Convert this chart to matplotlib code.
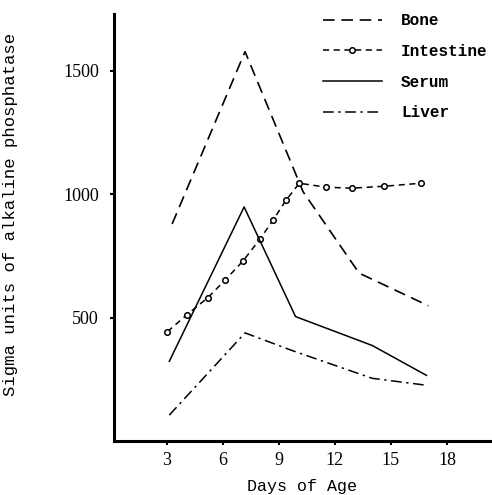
import matplotlib
matplotlib.use("Agg")
import matplotlib.pyplot as plt

# values
bone_days = [3.3, 7.2, 10.3, 13.3, 17.0]
bone_vals = [879, 1577, 1010, 680, 548]

intestine_days = [3.05, 4.1, 5.2, 6.15, 7.1, 8.0, 8.7, 9.4, 10.1, 11.55, 12.9, 14.65, 16.6]
intestine_vals = [443, 512, 580, 653, 730, 818, 895, 976, 1044, 1028, 1024, 1032, 1044]

serum_days = [3.15, 7.15, 9.9, 14.0, 16.9]
serum_vals = [323, 948, 504, 387, 266]

liver_days = [3.15, 7.2, 9.7, 14.0, 16.9]
liver_vals = [105, 438, 367, 254, 226]

x_ticks = [3, 6, 9, 12, 15, 18]
y_ticks = [500, 1000, 1500]

mono = "Liberation Mono"

fig = plt.figure(figsize=(4.92, 4.95), dpi=100)
ax = fig.add_axes([0.232, 0.109, 0.764, 0.863])

ax.plot(bone_days, bone_vals, color="black", lw=1.2, dashes=(7, 4), label="Bone")
ax.plot(intestine_days, intestine_vals, color="black", lw=1.1, dashes=(4, 3),
        marker="o", markersize=4, markerfacecolor="white", markeredgewidth=1.1,
        label="Intestine")
ax.plot(serum_days, serum_vals, color="black", lw=1.1, label="Serum")
ax.plot(liver_days, liver_vals, color="black", lw=1.1, dashes=(7, 3, 1.5, 3),
        label="Liver")

ax.set_xlim(0.2, 20.3)
ax.set_ylim(0, 1730)
ax.set_xticks(x_ticks)
ax.set_yticks(y_ticks)
ax.tick_params(direction="out", length=3, width=1.5, labelsize=13)
ax.tick_params(axis="y", pad=8)
ax.tick_params(axis="x", pad=5)
for lab in ax.get_xticklabels() + ax.get_yticklabels():
    lab.set_family("Liberation Serif")

for s in ["top", "right"]:
    ax.spines[s].set_visible(False)
ax.spines["left"].set_linewidth(2.2)
ax.spines["bottom"].set_linewidth(2.2)

ax.set_xlabel("Days of Age", family=mono, fontsize=12)
ax.xaxis.set_label_coords(0.5, -0.09)
ax.set_ylabel("Sigma units of alkaline phosphatase", family=mono, fontsize=12.4)
ax.yaxis.set_label_coords(-0.255, 0.53)

leg = ax.legend(loc="upper left", bbox_to_anchor=(0.517, 1.035), frameon=False,
                handlelength=3.7, handletextpad=1.2, labelspacing=0.98,
                prop={"family": mono, "size": 11.5, "weight": "bold"})

fig.savefig("out.png", dpi=100)
